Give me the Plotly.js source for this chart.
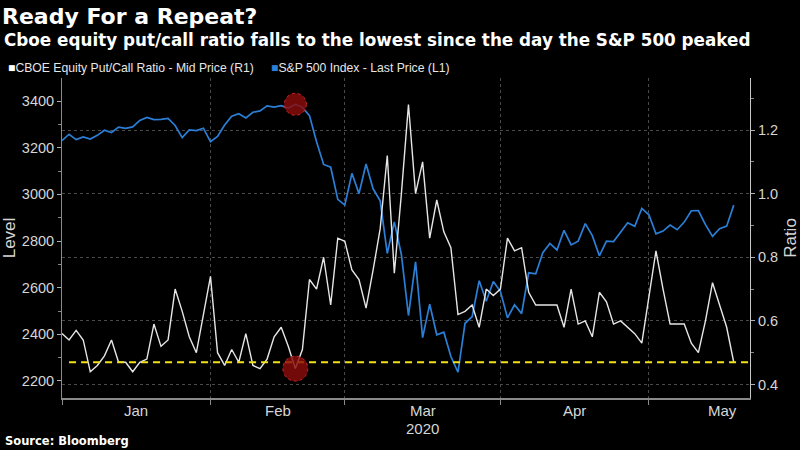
<!DOCTYPE html>
<html>
<head>
<meta charset="utf-8">
<script src="https://cdn.plot.ly/plotly-3.0.1.min.js"></script>
<style>
  html, body { margin: 0; padding: 0; background: #000; }
  #chart { width: 800px; height: 450px; }
</style>
</head>
<body>
<div id="chart"></div>
<script>
// Trading days shown on the chart (one point per session)
const dates = [
  '2019-12-31',
  '2020-01-02','2020-01-03','2020-01-06','2020-01-07','2020-01-08','2020-01-09','2020-01-10',
  '2020-01-13','2020-01-14','2020-01-15','2020-01-16','2020-01-17','2020-01-21','2020-01-22',
  '2020-01-23','2020-01-24','2020-01-27','2020-01-28','2020-01-29','2020-01-30','2020-01-31',
  '2020-02-03','2020-02-04','2020-02-05','2020-02-06','2020-02-07','2020-02-10','2020-02-11',
  '2020-02-12','2020-02-13','2020-02-14','2020-02-18','2020-02-19','2020-02-20','2020-02-21',
  '2020-02-24','2020-02-25','2020-02-26','2020-02-27','2020-02-28',
  '2020-03-02','2020-03-03','2020-03-04','2020-03-05','2020-03-06','2020-03-09','2020-03-10',
  '2020-03-11','2020-03-12','2020-03-13','2020-03-16','2020-03-17','2020-03-18','2020-03-19',
  '2020-03-20','2020-03-23','2020-03-24','2020-03-25','2020-03-26','2020-03-27','2020-03-30',
  '2020-03-31',
  '2020-04-01','2020-04-02','2020-04-03','2020-04-06','2020-04-07','2020-04-08','2020-04-09',
  '2020-04-13','2020-04-14','2020-04-15','2020-04-16','2020-04-17','2020-04-20','2020-04-21',
  '2020-04-22','2020-04-23','2020-04-24','2020-04-27','2020-04-28','2020-04-29','2020-04-30',
  '2020-05-01','2020-05-04','2020-05-05','2020-05-06','2020-05-07','2020-05-08','2020-05-11',
  '2020-05-12','2020-05-13','2020-05-14','2020-05-15','2020-05-18'
];

// S&P 500 Index - Last Price (left axis)
const spx = [
  3230.78,
  3257.85,3234.85,3246.28,3237.18,3253.05,3274.70,3265.35,3288.13,3283.15,3289.29,
  3316.81,3329.62,3320.79,3321.75,3325.54,3295.47,3243.63,3276.24,3273.40,3283.66,3225.52,
  3248.92,3297.59,3334.69,3345.78,3327.71,3352.09,3357.75,3379.45,3373.94,3380.16,
  3370.29,3386.15,3373.23,3337.75,3225.89,3128.21,3116.39,2978.76,2954.22,
  3090.23,3003.37,3130.12,3023.94,2972.37,2746.56,2882.23,2741.38,2480.64,2711.02,
  2386.13,2529.19,2398.10,2409.39,2304.92,2237.40,2447.33,2475.56,2630.07,2541.47,
  2626.65,2584.59,
  2470.50,2526.90,2488.65,2663.68,2659.41,2749.98,2789.82,2761.63,2846.06,2783.36,
  2799.55,2874.56,2823.16,2736.56,2799.31,2797.80,2836.74,2878.48,2863.39,2939.51,2912.43,
  2830.71,2842.74,2868.44,2848.42,2881.19,2929.80,2930.32,2870.12,2820.00,2852.50,
  2863.70,2953.91
];

// CBOE Equity Put/Call Ratio - Mid Price (right axis)
const putCall = [
  0.56,
  0.54,0.57,0.54,0.44,0.46,0.49,0.54,0.47,0.47,0.44,
  0.47,0.48,0.59,0.52,0.54,0.70,0.63,0.55,0.50,0.62,0.74,
  0.50,0.46,0.51,0.47,0.56,0.46,0.45,0.48,0.55,0.58,
  0.52,0.45,0.51,0.73,0.70,0.80,0.65,0.86,0.85,
  0.76,0.73,0.64,0.76,0.89,1.12,0.75,1.00,1.28,1.00,
  1.10,0.86,0.98,0.88,0.83,0.62,0.63,0.65,0.58,0.70,
  0.68,0.70,
  0.86,0.82,0.83,0.69,0.65,0.65,0.65,0.65,0.58,0.70,
  0.59,0.60,0.55,0.69,0.66,0.59,0.60,0.58,0.56,0.53,0.67,
  0.82,0.70,0.59,0.59,0.59,0.53,0.50,0.60,0.72,0.65,
  0.58,0.47
];

// Reference level: latest put/call reading
const lowLevel = [0.47];

const monthNames = ['Jan','Feb','Mar','Apr','May','Jun','Jul','Aug','Sep','Oct','Nov','Dec'];
const yearLabel = '2020';
const leftTicks = [2200, 2400, 2600, 2800, 3000, 3200, 3400];
const rightTicks = [0.4, 0.6, 0.8, 1.0, 1.2];

// ---- derived values ----
const idx = dates.map((d, i) => i);
const monthOf = d => parseInt(d.slice(5, 7), 10) - 1;

// month boundaries: last trading day of each month
const bounds = [];
for (let i = 0; i < dates.length - 1; i++) {
  if (monthOf(dates[i]) !== monthOf(dates[i + 1])) bounds.push(i);
}
const avgMonth = (bounds[bounds.length - 1] - bounds[0]) / (bounds.length - 1);
const xMax = dates.length - 1 + 2.3;

const monthAnn = [];
for (let k = 0; k < bounds.length; k++) {
  const a = bounds[k];
  const b = (k + 1 < bounds.length) ? bounds[k + 1] : a + avgMonth;
  monthAnn.push({ x: (a + b) / 2, name: monthNames[monthOf(dates[a + 1])] });
}

const peakIdx = spx.indexOf(Math.max(...spx));

const FONT = 'Liberation Sans, Arial, sans-serif';
const BOLD = 'DejaVu Sans, Liberation Sans, sans-serif';
const BLUE = '#2b7fd6';
const WHITE = '#e6e6e6';
const GRID = '#4a4a4a';
const TICKTXT = '#d6d6d6';

const traces = [
  {
    x: idx, y: spx, type: 'scatter', mode: 'lines',
    line: { color: BLUE, width: 1.7 }, yaxis: 'y', hoverinfo: 'skip'
  },
  {
    x: idx, y: putCall, type: 'scatter', mode: 'lines',
    line: { color: WHITE, width: 1.4 }, yaxis: 'y2', hoverinfo: 'skip'
  },
  {
    x: [1, xMax], y: [lowLevel[0], lowLevel[0]], type: 'scatter', mode: 'lines',
    line: { color: '#f2e21a', width: 2, dash: '7px,5px' }, yaxis: 'y2', hoverinfo: 'skip'
  }
];

const px2py = p => (398 - p) / 320;
const px2px = p => (p - 62) / 688;

const annotations = [
  {
    text: '<b>Cboe equity put/call ratio falls to the lowest since the day the S&amp;P 500 peaked</b>',
    xref: 'paper', yref: 'paper', x: px2px(2), y: px2py(40), xanchor: 'left', yanchor: 'middle',
    showarrow: false, font: { family: BOLD, size: 16.8, color: '#ffffff' }
  },
  {
    text: '<span style="color:#ffffff">■</span>CBOE Equity Put/Call Ratio - Mid Price (R1)',
    xref: 'paper', yref: 'paper', x: px2px(6), y: px2py(68), xanchor: 'left', yanchor: 'middle',
    showarrow: false, font: { family: FONT, size: 12.2, color: '#e6e6e6' }
  },
  {
    text: '<span style="color:' + BLUE + '">■</span>S&amp;P 500 Index - Last Price (L1)',
    xref: 'paper', yref: 'paper', x: px2px(269), y: px2py(68), xanchor: 'left', yanchor: 'middle',
    showarrow: false, font: { family: FONT, size: 12.2, color: '#e6e6e6' }
  },
  {
    text: '<b>Source: Bloomberg</b>',
    xref: 'paper', yref: 'paper', x: px2px(3), y: px2py(441), xanchor: 'left', yanchor: 'middle',
    showarrow: false, font: { family: BOLD, size: 11.5, color: '#ffffff' }
  }
];
monthAnn.forEach(m => annotations.push({
  text: m.name, xref: 'x', yref: 'paper', x: m.x, y: px2py(410),
  xanchor: 'center', yanchor: 'middle', showarrow: false,
  font: { family: FONT, size: 15, color: TICKTXT }
}));
annotations.push({
  text: yearLabel, xref: 'x', yref: 'paper', x: monthAnn[2].x, y: px2py(428),
  xanchor: 'center', yanchor: 'middle', showarrow: false,
  font: { family: FONT, size: 15, color: TICKTXT }
});

const shapes = [
  {
    type: 'circle', xref: 'x', yref: 'y', xsizemode: 'pixel', ysizemode: 'pixel',
    xanchor: peakIdx, yanchor: spx[peakIdx], x0: -11, x1: 11, y0: -11, y1: 11,
    fillcolor: 'rgba(140,12,12,0.82)', line: { color: '#c42a2a', width: 1, dash: 'dot' }, layer: 'above'
  },
  {
    type: 'circle', xref: 'x', yref: 'y2', xsizemode: 'pixel', ysizemode: 'pixel',
    xanchor: peakIdx, yanchor: putCall[peakIdx], x0: -12.5, x1: 12.5, y0: -12.5, y1: 12.5,
    fillcolor: 'rgba(140,12,12,0.82)', line: { color: '#c42a2a', width: 1, dash: 'dot' }, layer: 'above'
  }
];

const layout = {
  width: 800, height: 450,
  margin: { l: 62, r: 50, t: 78, b: 52, pad: 0 },
  paper_bgcolor: '#000', plot_bgcolor: '#000',
  showlegend: false,
  font: { family: FONT, color: TICKTXT },
  title: {
    text: '<b>Ready For a Repeat?</b>',
    xref: 'container', yref: 'container', x: 2 / 800, xanchor: 'left',
    y: 1 - 16 / 450, yanchor: 'middle',
    font: { family: BOLD, size: 22, color: '#ffffff' }
  },
  xaxis: {
    range: [0, xMax], tickmode: 'array', tickvals: bounds,
    showticklabels: false, ticks: 'outside', ticklen: 5, tickcolor: '#8a8a8a', tickwidth: 1,
    showgrid: true, gridcolor: GRID, griddash: 'dot', gridwidth: 1,
    showline: true, linecolor: '#8a8a8a', linewidth: 2, zeroline: false, fixedrange: true
  },
  yaxis: {
    range: [2127, 3499], tickmode: 'array', tickvals: leftTicks,
    ticks: 'outside', ticklen: 4, tickcolor: '#b0b0b0',
    minor: { dtick: 100, tick0: 2200, ticks: 'outside', ticklen: 3, tickcolor: '#8a8a8a', showgrid: false },
    showgrid: false, zeroline: false, showline: true, linecolor: '#8a8a8a', linewidth: 1,
    tickfont: { family: FONT, size: 14.5, color: TICKTXT },
    title: { text: 'Level', font: { family: FONT, size: 17, color: TICKTXT }, standoff: 6 }
  },
  yaxis2: {
    overlaying: 'y', side: 'right',
    range: [0.3576, 1.3635], tickmode: 'array', tickvals: rightTicks,
    ticktext: rightTicks.map(v => v.toFixed(1)),
    ticks: 'outside', ticklen: 4, tickcolor: '#b0b0b0',
    minor: { dtick: 0.1, tick0: 0.4, ticks: 'outside', ticklen: 3, tickcolor: '#8a8a8a', showgrid: false },
    showgrid: true, gridcolor: GRID, griddash: 'dot', gridwidth: 1,
    zeroline: false, showline: true, linecolor: '#c8c8c8', linewidth: 1,
    tickfont: { family: FONT, size: 14.5, color: TICKTXT },
    title: { text: 'Ratio', font: { family: FONT, size: 17, color: TICKTXT }, standoff: 7 }
  },
  annotations: annotations,
  shapes: shapes
};

Plotly.newPlot('chart', traces, layout, { staticPlot: true, displayModeBar: false });
</script>
</body>
</html>
